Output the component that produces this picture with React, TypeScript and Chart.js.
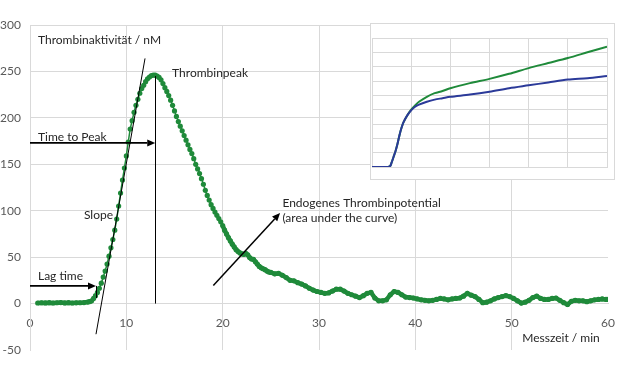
import { useEffect, useRef } from 'react';
import { Chart, registerables } from 'chart.js';
Chart.register(...registerables);

// ---------- main curve data (Messzeit in min, Thrombinaktivität in nM) ----------
const lagTimes = [0.8, 1.2, 1.6, 2.0, 2.4, 2.8, 3.2, 3.6, 4.0, 4.4, 4.8, 5.2, 5.6, 6.0, 6.2];
const lagValues = [0.6, 0.9, 0.7, 1.0, 0.6, 0.9, 1.1, 0.7, 1.0, 0.6, 0.8, 0.9, 1.1, 1.6, 2.2];

const peakTimes = [
  6.4, 6.6, 6.8, 7.0, 7.2, 7.4, 7.6, 7.8, 8.0, 8.2, 8.4, 8.6, 8.8, 9.0, 9.2, 9.4, 9.6, 9.8,
  10.0, 10.2, 10.4, 10.6, 10.8, 11.0, 11.2, 11.4, 11.6, 11.8, 12.0, 12.2, 12.4, 12.6, 12.8,
  13.0, 13.2, 13.4, 13.6, 13.8, 14.0, 14.2, 14.4, 14.6, 14.8, 15.0, 15.2, 15.4, 15.6, 15.8,
  16.0, 16.2, 16.4, 16.6, 16.8, 17.0, 17.2, 17.4, 17.6, 17.8, 18.0, 18.2, 18.4, 18.6, 18.8,
  19.0, 19.2, 19.4, 19.6, 19.8, 20.0, 20.2, 20.4, 20.6, 20.8, 21.0, 21.2, 21.4, 21.6, 21.8,
  22.0, 22.2, 22.4, 22.6, 22.8, 23.0, 23.2, 23.4, 23.6, 23.8, 24.0, 24.2, 24.4, 24.6, 24.8,
];
const peakValues = [
  3, 5.5, 8.5, 12, 16.5, 22, 28.5, 35, 42.5, 51, 60, 69, 79, 91, 105, 119, 133, 146,
  159, 174, 188, 197, 206, 213.5, 220, 226.5, 231.5, 235, 239, 242, 244, 245.5, 246,
  246, 245, 243.5, 241, 237, 232.5, 228.5, 224, 219, 213.5, 207.5, 201.5, 196, 191, 186,
  181, 176, 171, 166, 161.5, 156, 150, 145, 140, 134.5, 128.5, 122, 116.5, 111.5, 106.5,
  102.5, 98.5, 95, 91.5, 88, 84, 79, 75, 71, 67.5, 64, 61, 58, 56, 54.5,
  53.5, 53, 54, 52.5, 49.5, 48, 47.5, 45, 42.5, 40, 38.5, 37.5, 36.5, 35, 34,
];

const tailTimes = [
  25.0, 25.4, 25.8, 26.2, 26.6, 27.0, 27.4, 27.8, 28.2, 28.6, 29.0, 29.4, 29.8, 30.2, 30.6,
  31.0, 31.4, 31.8, 32.2, 32.6, 33.0, 33.4, 33.8, 34.2, 34.6, 35.0, 35.4, 35.8, 36.2, 36.6,
  37.0, 37.4, 37.8, 38.2, 38.6, 39.0, 39.4, 39.8, 40.2, 40.6, 41.0, 41.4, 41.8, 42.2, 42.6,
  43.0, 43.4, 43.8, 44.2, 44.6, 45.0, 45.4, 45.8, 46.2, 46.6, 47.0, 47.4, 47.8, 48.2, 48.6,
  49.0, 49.4, 49.8, 50.2, 50.6, 51.0, 51.4, 51.8, 52.2, 52.6, 53.0, 53.4, 53.8, 54.2, 54.6,
  55.0, 55.4, 55.8, 56.2, 56.6, 57.0, 57.4, 57.8, 58.2, 58.6, 59.0, 59.4, 59.8, 60.0,
];
const tailValues = [
  33.5, 32, 32.5, 30.5, 28, 25, 24.5, 22.5, 21, 19, 16.5, 14.5, 13, 12, 11,
  11.5, 13.5, 15.5, 15.5, 13.5, 11, 9.5, 8, 6.5, 8.5, 11, 12, 6, 3, 3,
  4, 9.5, 13, 12, 9.5, 7, 6.5, 6, 5, 4, 3.5, 3, 3.5, 4.5, 5.5,
  5, 4, 5, 5.5, 6, 8, 11, 9, 7.5, 4.5, 1, 1.5, 3, 5, 6.5,
  7.5, 8.5, 7.5, 5.5, 3, 0.5, 1.5, 3.5, 6.5, 8, 5.5, 4.5, 4.5, 5.5, 6,
  3.5, 1, -1, 2.5, 3.5, 3, 3, 2, 3, 4, 4.5, 5, 4.5, 4.5,
];

// ---------- axis ranges ----------
const xMin = 0, xMax = 60, xStep = 10;
const yMin = -50, yMax = 300, yStep = 50;

// ---------- annotations (data units) ----------
const labelTexts = ['Thrombinaktivität / nM', 'Thrombinpeak', 'Time to Peak', 'Lag time', 'Slope', 'Endogenes Thrombinpotential', '(area under the curve)', 'Messzeit / min'];
const labelX = [0.83, 14.75, 0.83, 0.83, 8.62, 26.2, 26.2, 51.1];
const labelY = [284, 248.4, 179.6, 30, 95.7, 108.6, 92.5, -37.6];
const labelAlign = ['left', 'left', 'left', 'left', 'right', 'left', 'left', 'left'];

const slopeLine = [[6.85, -33], [11.94, 264]];
const peakTime = 13.0, peakValue = 245, peakArrowY = 173;
const lagTime = 6.85, lagArrowY = 19, lagCurveY = 6;
const eptArrow = [[19.03, 19.4], [25.96, 97.5]];

// ---------- inset data ----------
const insetX = [0, 2, 4, 4.6, 5, 5.5, 6, 6.5, 7, 7.5, 8, 9, 10, 11, 12, 14, 16, 18, 20, 25, 30, 35, 40, 45, 50, 55, 60];
const insetGreen = [0, 0, 0, 0.05, 0.3, 0.7, 1.1, 1.6, 2.2, 2.7, 3.1, 3.6, 4.0, 4.3, 4.55, 4.9, 5.15, 5.3, 5.5, 5.85, 6.15, 6.5, 6.9, 7.25, 7.6, 8.0, 8.4];
const insetBlue = [0, 0, 0, 0.05, 0.3, 0.7, 1.1, 1.6, 2.2, 2.7, 3.1, 3.6, 3.95, 4.2, 4.35, 4.55, 4.7, 4.8, 4.9, 5.05, 5.25, 5.5, 5.7, 5.9, 6.1, 6.2, 6.35];

const GREEN = '#1f8a3a';
const BLUE = '#2b3a99';
const GRID = '#d9d9d9';
const FONT = 'Lato, "Liberation Sans", sans-serif';

function arrow(ctx: CanvasRenderingContext2D, x1: number, y1: number, x2: number, y2: number) {
  const ang = Math.atan2(y2 - y1, x2 - x1);
  const len = 8, hw = 3.5;
  const bx = x2 - len * Math.cos(ang), by = y2 - len * Math.sin(ang);
  ctx.beginPath();
  ctx.moveTo(x1, y1);
  ctx.lineTo(bx, by);
  ctx.stroke();
  ctx.beginPath();
  ctx.moveTo(x2, y2);
  ctx.lineTo(bx + hw * Math.sin(ang), by - hw * Math.cos(ang));
  ctx.lineTo(bx - hw * Math.sin(ang), by + hw * Math.cos(ang));
  ctx.closePath();
  ctx.fill();
}

const annotationPlugin = {
  id: 'tgaAnnotations',
  afterDatasetsDraw(chart: any) {
    const { ctx } = chart;
    const xs = chart.scales.x, ys = chart.scales.y;
    const X = (v: number) => xs.getPixelForValue(v);
    const Y = (v: number) => ys.getPixelForValue(v);
    ctx.save();
    ctx.strokeStyle = '#000';
    ctx.fillStyle = '#000';
    ctx.lineWidth = 1;
    ctx.beginPath();
    ctx.moveTo(X(slopeLine[0][0]), Y(slopeLine[0][1]));
    ctx.lineTo(X(slopeLine[1][0]), Y(slopeLine[1][1]));
    ctx.stroke();
    ctx.beginPath();
    ctx.moveTo(Math.round(X(peakTime)) + 0.5, Y(peakValue));
    ctx.lineTo(Math.round(X(peakTime)) + 0.5, Y(0));
    ctx.stroke();
    ctx.beginPath();
    ctx.moveTo(Math.round(X(lagTime)) + 0.5, Y(lagArrowY));
    ctx.lineTo(Math.round(X(lagTime)) + 0.5, Y(lagCurveY));
    ctx.stroke();
    ctx.lineWidth = 1.8;
    arrow(ctx, X(0), Y(peakArrowY), X(peakTime), Y(peakArrowY));
    arrow(ctx, X(0), Y(lagArrowY), X(lagTime), Y(lagArrowY));
    ctx.lineWidth = 1.5;
    arrow(ctx, X(eptArrow[0][0]), Y(eptArrow[0][1]), X(eptArrow[1][0]), Y(eptArrow[1][1]));
    ctx.font = '12px ' + FONT;
    ctx.fillStyle = '#262626';
    ctx.textBaseline = 'middle';
    labelTexts.forEach((t, i) => {
      ctx.textAlign = labelAlign[i];
      ctx.fillText(t, X(labelX[i]), Y(labelY[i]));
    });
    ctx.restore();
  },
};

const insetFrame = {
  id: 'insetFrame',
  beforeDraw(chart: any) {
    const { ctx, width, height } = chart;
    ctx.save();
    ctx.fillStyle = '#fff';
    ctx.fillRect(0, 0, width, height);
    ctx.strokeStyle = GRID;
    ctx.lineWidth = 1;
    ctx.strokeRect(0.5, 0.5, width - 1, height - 1);
    ctx.restore();
  },
};

export default function App() {
  const mainRef = useRef<HTMLCanvasElement>(null);
  const insetRef = useRef<HTMLCanvasElement>(null);

  useEffect(() => {
    const pts = [
      ...lagTimes.map((t, i) => ({ x: t, y: lagValues[i] })),
      ...peakTimes.map((t, i) => ({ x: t, y: peakValues[i] })),
      ...tailTimes.map((t, i) => ({ x: t, y: tailValues[i] })),
    ];
    const main = new Chart(mainRef.current!, {
      type: 'line',
      data: {
        datasets: [
          {
            data: pts,
            borderColor: GREEN,
            backgroundColor: GREEN,
            pointBackgroundColor: GREEN,
            pointBorderColor: GREEN,
            pointBorderWidth: 0,
            pointRadius: 2.6,
            borderWidth: 1.5,
            tension: 0,
            segment: {
              borderWidth: (c: any) => (c.p0.parsed.x < 6.3 || c.p0.parsed.x >= 20 ? 4.5 : 1.5),
            },
          },
        ],
      },
      options: {
        animation: false,
        responsive: false,
        maintainAspectRatio: false,
        layout: { autoPadding: false, padding: { top: 25, right: 12, bottom: 26, left: 0 } },
        plugins: { legend: { display: false }, tooltip: { enabled: false } },
        scales: {
          x: {
            type: 'linear',
            min: xMin,
            max: xMax,
            position: { y: 0 } as any,
            ticks: { stepSize: xStep, padding: 12, color: '#595959', font: { family: FONT, size: 12 } },
            grid: {
              color: (c: any) => (c.tick && c.tick.value === xMax ? 'rgba(0,0,0,0)' : GRID),
              drawTicks: false,
            },
            border: { color: GRID },
            afterFit: (s: any) => {
              s.paddingLeft = 0;
              s.paddingRight = 0;
            },
          },
          y: {
            type: 'linear',
            min: yMin,
            max: yMax,
            ticks: { stepSize: yStep, padding: 9, color: '#595959', font: { family: FONT, size: 12 } },
            grid: {
              color: (c: any) => (c.tick && c.tick.value === yMin ? 'rgba(0,0,0,0)' : GRID),
              drawTicks: false,
            },
            border: { color: GRID },
            afterFit: (s: any) => {
              s.width = 30;
            },
          },
        },
      },
      plugins: [annotationPlugin],
    });

    const inset = new Chart(insetRef.current!, {
      type: 'line',
      data: {
        datasets: [
          {
            data: insetX.map((x, i) => ({ x, y: insetBlue[i] })),
            borderColor: BLUE,
            borderWidth: 2,
            pointRadius: 0,
            tension: 0.3,
          },
          {
            data: insetX.map((x, i) => ({ x, y: insetGreen[i] })),
            borderColor: GREEN,
            borderWidth: 2,
            pointRadius: 0,
            tension: 0.3,
          },
        ],
      },
      options: {
        animation: false,
        responsive: false,
        maintainAspectRatio: false,
        layout: { autoPadding: false, padding: { top: 15, right: 8, bottom: 13, left: 2 } },
        plugins: { legend: { display: false }, tooltip: { enabled: false } },
        scales: {
          x: {
            type: 'linear',
            min: 0,
            max: 60,
            ticks: { display: false, stepSize: 10 },
            grid: { color: GRID, drawTicks: false },
            border: { color: GRID },
          },
          y: {
            type: 'linear',
            min: 0,
            max: 9,
            ticks: { display: false, stepSize: 1 },
            grid: { color: GRID, drawTicks: false },
            border: { color: GRID },
          },
        },
      },
      plugins: [insetFrame],
    });

    return () => {
      main.destroy();
      inset.destroy();
    };
  }, []);

  return (
    <div style={{ position: 'fixed', left: 0, top: 0, width: 620, height: 376, background: '#fff' }}>
      <canvas ref={mainRef} width={620} height={376} style={{ position: 'absolute', left: 0, top: 0 }} />
      <canvas ref={insetRef} width={245} height={157} style={{ position: 'absolute', left: 370, top: 23 }} />
    </div>
  );
}
